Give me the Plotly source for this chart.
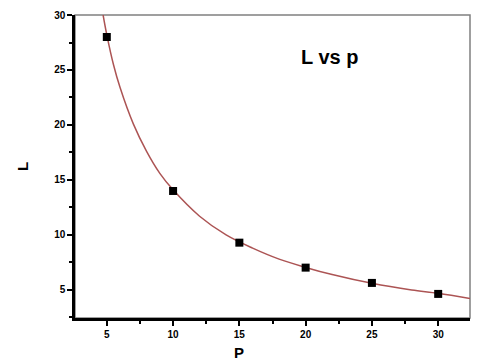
import plotly.graph_objects as go

# measured data points
p_vals = [5, 10, 15, 20, 25, 30]
L_vals = [28.0, 14.0, 9.3, 7.03, 5.64, 4.64]

# fitted curve
curve_p = [4.72, 5, 5.5, 6, 7, 8, 9, 10, 12, 14, 16, 18, 20, 22, 25, 28, 30, 32.4]
curve_L = [30.0, 28.2, 25.5, 23.4, 20.1, 17.6, 15.6, 14.1, 11.7, 10.0, 8.8, 7.8, 7.05, 6.4, 5.6, 5.0, 4.7, 4.22]

x_ticks = [5, 10, 15, 20, 25, 30]
y_ticks = [5, 10, 15, 20, 25, 30]

fig = go.Figure()
fig.add_trace(go.Scatter(x=curve_p, y=curve_L, mode="lines",
                         line=dict(color="rgb(172,84,84)", width=1.5, shape="spline"),
                         showlegend=False, hoverinfo="skip"))
fig.add_trace(go.Scatter(x=p_vals, y=L_vals, mode="markers",
                         marker=dict(symbol="square", size=8, color="black"),
                         showlegend=False))

fam = "Liberation Sans, Arial, sans-serif"
tickfont = dict(family=fam, size=10, color="black", weight="bold")
fig.update_xaxes(range=[2.6, 32.4], tickvals=x_ticks, ticks="outside", ticklen=5, tickwidth=2,
                 tickcolor="black", showline=True, linecolor="black", linewidth=2.5,
                 showgrid=False, zeroline=False, tickfont=tickfont, automargin=False,
                 minor=dict(dtick=2.5, tick0=0, ticks="outside", ticklen=3, tickwidth=2, tickcolor="black"))
fig.update_yaxes(range=[2.45, 30], tickvals=y_ticks, ticks="outside", ticklen=5, tickwidth=2,
                 tickcolor="black", showline=True, linecolor="black", linewidth=2.5,
                 showgrid=False, zeroline=False, tickfont=tickfont, automargin=False,
                 minor=dict(dtick=2.5, tick0=0, ticks="outside", ticklen=3, tickwidth=2, tickcolor="black"),
                 title=dict(text="L", font=dict(family=fam, size=15, color="black", weight="bold"),
                            standoff=22))

# grey frame (top and right visible)
fig.add_shape(type="rect", xref="paper", yref="paper", x0=0, x1=1, y0=0, y1=1,
              line=dict(color="gray", width=1.5), layer="below")

# x-axis title placed under the 15 tick, as in the reference
fig.add_annotation(x=15, xref="x", y=-0.115, yref="paper", text="P", showarrow=False,
                   yanchor="middle", font=dict(family=fam, size=15, color="black", weight="bold"))

fig.add_annotation(x=0.722, y=0.905, xref="paper", yref="paper", text="L vs p", showarrow=False,
                   font=dict(family=fam, size=20, color="black", weight="bold"))

fig.update_layout(width=472, height=356, margin=dict(l=67, r=10, t=7, b=46),
                  plot_bgcolor="white", paper_bgcolor="white")

fig.write_html("out.html")
